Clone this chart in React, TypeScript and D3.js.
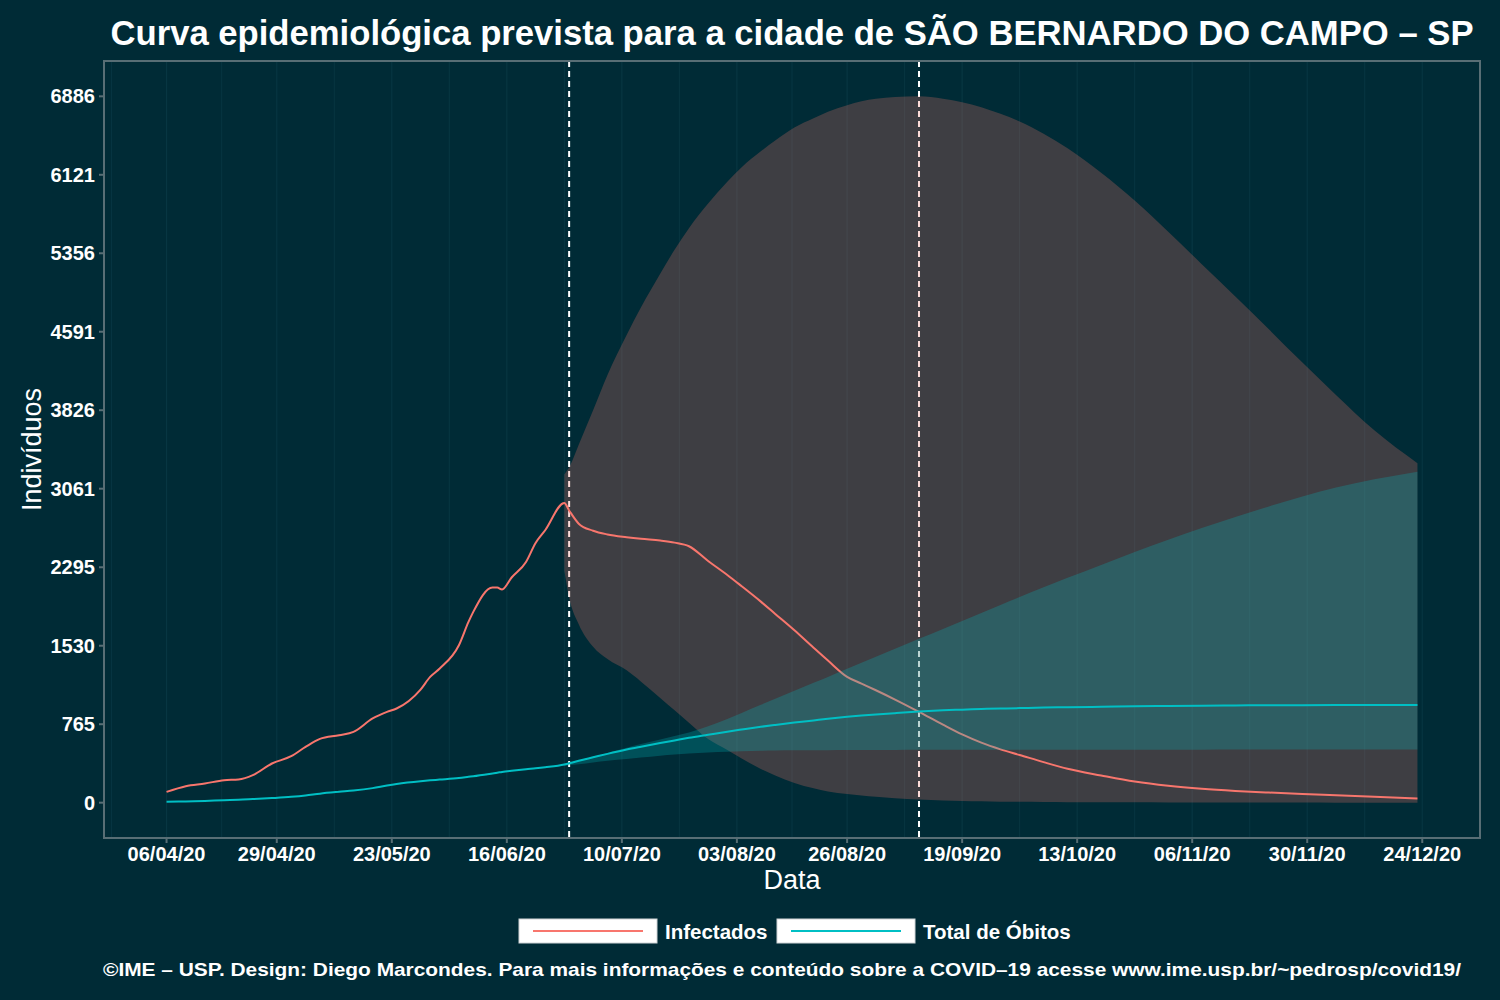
import { useMemo } from "react";
import * as d3 from "d3";

// observed period (Infectados / Total de Óbitos)
const obsDates = [
  "2020-04-06", "2020-04-10", "2020-04-14", "2020-04-18", "2020-04-21", "2020-04-24",
  "2020-04-28", "2020-05-02", "2020-05-05", "2020-05-08", "2020-05-12", "2020-05-15",
  "2020-05-19", "2020-05-22", "2020-05-24", "2020-05-29", "2020-05-31", "2020-06-02",
  "2020-06-06", "2020-06-08", "2020-06-09", "2020-06-13", "2020-06-14", "2020-06-15",
  "2020-06-17", "2020-06-20", "2020-06-22", "2020-06-24", "2020-06-28",
];
const obsInfected = [
  105, 161, 187, 219, 226, 268, 382, 453, 544, 622, 658, 690, 821, 885, 918,
  1103, 1226, 1308, 1535, 1762, 1860, 2097, 2097, 2078, 2195, 2347, 2532, 2656, 2922,
];
const obsDeaths = [
  8, 12, 17, 24, 28, 35, 45, 57, 70, 88, 106, 118, 142, 168, 183,
  210, 218, 225, 240, 252, 258, 285, 292, 300, 312, 327, 335, 345, 372,
];

// forecast period
const fcDates = [
  "2020-06-28", "2020-06-29", "2020-07-01", "2020-07-04", "2020-07-07", "2020-07-11",
  "2020-07-14", "2020-07-18", "2020-07-21", "2020-07-24", "2020-07-28", "2020-08-01",
  "2020-08-04", "2020-08-08", "2020-08-11", "2020-08-15", "2020-08-19", "2020-08-22",
  "2020-08-26", "2020-08-29", "2020-09-01", "2020-09-05", "2020-09-10", "2020-09-15",
  "2020-09-19", "2020-09-23", "2020-09-27", "2020-10-01", "2020-10-06", "2020-10-11",
  "2020-10-18", "2020-10-25", "2020-11-01", "2020-11-08", "2020-11-15", "2020-11-22",
  "2020-11-29", "2020-12-06", "2020-12-14", "2020-12-23",
];
const fcInfected = [
  2922, 2849, 2720, 2651, 2615, 2588, 2572, 2555, 2535, 2500, 2356, 2220,
  2110, 1960, 1840, 1680, 1510, 1385, 1226, 1161, 1096, 1005, 885, 760,
  665, 585, 520, 465, 395, 330, 265, 206, 165, 136, 115, 99,
  85, 73, 58, 40,
];
const fcInfectedHi = [
  3200, 3270, 3490, 3825, 4170, 4560, 4830, 5157, 5390, 5600, 5840, 6054,
  6195, 6350, 6455, 6582, 6672, 6735, 6800, 6838, 6862, 6880, 6886, 6862,
  6828, 6780, 6715, 6640, 6520, 6380, 6140, 5870, 5565, 5250, 4935, 4615,
  4290, 3975, 3630, 3309,
];
const fcInfectedLo = [
  2260, 2000, 1740, 1520, 1400, 1290, 1180, 1020, 900, 780, 620, 514,
  430, 329, 265, 192, 140, 109, 85, 70, 57, 44, 30, 22,
  17, 13, 10, 8, 6, 5, 4, 3, 2, 2, 1, 1,
  1, 0, 0, 0,
];
const fcDeaths = [
  372, 384, 408, 442, 476, 518, 546, 582, 607, 632, 662, 692,
  713, 740, 758, 781, 802, 818, 837, 849, 860, 873, 888, 900,
  907, 913, 918, 922, 927, 931, 935, 940, 943, 946, 948, 950,
  951, 952, 953, 953,
];
const fcDeathsHi = [
  380, 392, 412, 445, 485, 535, 572, 615, 650, 685, 745, 815,
  875, 955, 1012, 1090, 1168, 1226, 1305, 1364, 1423, 1500, 1598, 1694,
  1772, 1850, 1928, 2005, 2100, 2192, 2318, 2444, 2563, 2677, 2785, 2888,
  2984, 3072, 3152, 3226,
];
const fcDeathsLo = [
  360, 365, 375, 392, 408, 425, 440, 458, 470, 480, 490, 497,
  502, 506, 508, 510, 511, 512, 513, 513, 514, 514, 515, 515,
  515, 516, 516, 516, 516, 517, 517, 517, 517, 517, 518, 518,
  518, 518, 518, 518,
];

const xTickDates = [
  "2020-04-06", "2020-04-29", "2020-05-23", "2020-06-16", "2020-07-10", "2020-08-03",
  "2020-08-26", "2020-09-19", "2020-10-13", "2020-11-06", "2020-11-30", "2020-12-24",
];
const yTicks = [0, 765, 1530, 2295, 3061, 3826, 4591, 5356, 6121, 6886];
const markerDates = ["2020-06-29", "2020-09-10"];

const BG = "#002b36";
const RED = "#F8766D";
const CYAN = "#00BFC4";
const FONT = "'Liberation Sans', Arial, Helvetica, sans-serif";

const parse = d3.utcParse("%Y-%m-%d");
const fmt = d3.utcFormat("%d/%m/%y");

type Pt = { d: Date; v: number };
type Band = { d: Date; lo: number; hi: number };

export default function App() {
  const width = 1500;
  const height = 1000;
  const pad = { l: 104, r: 20, t: 61, b: 162 };
  const pw = width - pad.l - pad.r;
  const ph = height - pad.t - pad.b;

  const m = useMemo(() => {
    const infected: Pt[] = [
      ...obsDates.map((s, i) => ({ d: parse(s)!, v: obsInfected[i] })),
      ...fcDates.slice(1).map((s, i) => ({ d: parse(s)!, v: fcInfected[i + 1] })),
    ];
    const deaths: Pt[] = [
      ...obsDates.map((s, i) => ({ d: parse(s)!, v: obsDeaths[i] })),
      ...fcDates.slice(1).map((s, i) => ({ d: parse(s)!, v: fcDeaths[i + 1] })),
    ];
    const bandInf: Band[] = fcDates.map((s, i) => ({ d: parse(s)!, lo: fcInfectedLo[i], hi: fcInfectedHi[i] }));
    const bandDea: Band[] = fcDates.map((s, i) => ({ d: parse(s)!, lo: fcDeathsLo[i], hi: fcDeathsHi[i] }));

    const [d0, d1] = d3.extent(infected, (p) => p.d) as [Date, Date];
    const span = d1.getTime() - d0.getTime();
    const x = d3
      .scaleUtc()
      .domain([new Date(d0.getTime() - span * 0.05), new Date(d1.getTime() + span * 0.05)])
      .range([0, pw]);
    const yMax = d3.max(fcInfectedHi) ?? 1;
    const y = d3
      .scaleLinear()
      .domain([-yMax * 0.05, yMax * 1.05])
      .range([ph, 0]);

    const line = d3
      .line<Pt>()
      .x((p) => x(p.d))
      .y((p) => y(p.v))
      .curve(d3.curveMonotoneX);
    const area = d3
      .area<Band>()
      .x((p) => x(p.d))
      .y0((p) => y(p.lo))
      .y1((p) => y(p.hi))
      .curve(d3.curveMonotoneX);

    const majors = xTickDates.map((s) => parse(s)!);
    const step = majors[1].getTime() - majors[0].getTime();
    const minors = [
      new Date(majors[0].getTime() - step / 2),
      ...majors.slice(1).map((t, i) => new Date((t.getTime() + majors[i].getTime()) / 2)),
    ];

    return {
      x,
      y,
      majors,
      minors,
      infPath: line(infected) ?? "",
      deaPath: line(deaths) ?? "",
      infBand: area(bandInf) ?? "",
      deaBand: area(bandDea) ?? "",
    };
  }, [pw, ph]);

  const { x, y } = m;

  return (
    <svg
      width={width}
      height={height}
      viewBox={`0 0 ${width} ${height}`}
      style={{ position: "absolute", left: 0, top: 0, background: BG }}
      fontFamily={FONT}
    >
      <rect width={width} height={height} fill={BG} />
      <text
        x={pad.l + pw / 2}
        y={45}
        textAnchor="middle"
        fontSize={35}
        fontWeight="bold"
        fill="#ffffff"
        textLength={1363}
        lengthAdjust="spacingAndGlyphs"
      >
        Curva epidemiológica prevista para a cidade de SÃO BERNARDO DO CAMPO – SP
      </text>

      <g transform={`translate(${pad.l},${pad.t})`}>
        {/* vertical grid */}
        {m.minors.map((t, i) => (
          <line key={`mi${i}`} x1={x(t)} x2={x(t)} y1={0} y2={ph} stroke="#073642" strokeWidth={1} />
        ))}
        {m.majors.map((t, i) => (
          <line key={`ma${i}`} x1={x(t)} x2={x(t)} y1={0} y2={ph} stroke="#073642" strokeWidth={1.2} />
        ))}

        {/* markers */}
        {markerDates.map((s) => (
          <line
            key={s}
            x1={x(parse(s)!)}
            x2={x(parse(s)!)}
            y1={0}
            y2={ph}
            stroke="#ffffff"
            strokeWidth={2}
            strokeDasharray="6 4"
          />
        ))}

        <path d={m.infBand} fill={RED} fillOpacity={0.25} />
        <path d={m.infPath} fill="none" stroke={RED} strokeWidth={2} />
        <path d={m.deaBand} fill={CYAN} fillOpacity={0.25} />
        <path d={m.deaPath} fill="none" stroke={CYAN} strokeWidth={2} />

        <rect x={0} y={0} width={pw} height={ph} fill="none" stroke="#586e75" strokeWidth={2} />

        {yTicks.map((t) => (
          <g key={t} transform={`translate(0,${y(t)})`}>
            <line x1={-5} x2={0} stroke="#586e75" strokeWidth={2} />
            <text x={-9} y={7} textAnchor="end" fontSize={20} fontWeight="bold" fill="#ffffff">
              {t}
            </text>
          </g>
        ))}
        {m.majors.map((t, i) => (
          <g key={i} transform={`translate(${x(t)},${ph})`}>
            <line y1={0} y2={5} stroke="#586e75" strokeWidth={2} />
            <text y={23} textAnchor="middle" fontSize={20} fontWeight="bold" fill="#ffffff">
              {fmt(t)}
            </text>
          </g>
        ))}
      </g>

      <text x={pad.l + pw / 2} y={889} textAnchor="middle" fontSize={27} fill="#ffffff">
        Data
      </text>
      <text
        transform={`translate(41,${pad.t + ph / 2}) rotate(-90)`}
        textAnchor="middle"
        fontSize={27}
        fill="#ffffff"
      >
        Indivíduos
      </text>

      {/* legend */}
      <g>
        <rect x={519} y={919} width={138} height={24} fill="#ffffff" stroke="#cfd4d6" />
        <line x1={533} x2={643} y1={931} y2={931} stroke={RED} strokeWidth={2} />
        <text x={665} y={939} fontSize={20.5} fontWeight="bold" fill="#ffffff">
          Infectados
        </text>
        <rect x={777} y={919} width={138} height={24} fill="#ffffff" stroke="#cfd4d6" />
        <line x1={791} x2={901} y1={931} y2={931} stroke={CYAN} strokeWidth={2} />
        <text x={923} y={939} fontSize={20.5} fontWeight="bold" fill="#ffffff">
          Total de Óbitos
        </text>
      </g>

      <text
        x={782}
        y={976}
        textAnchor="middle"
        fontSize={19}
        fontWeight="bold"
        fill="#ffffff"
        textLength={1358}
        lengthAdjust="spacingAndGlyphs"
      >
        ©IME – USP. Design: Diego Marcondes. Para mais informações e conteúdo sobre a COVID–19 acesse www.ime.usp.br/~pedrosp/covid19/
      </text>
    </svg>
  );
}
